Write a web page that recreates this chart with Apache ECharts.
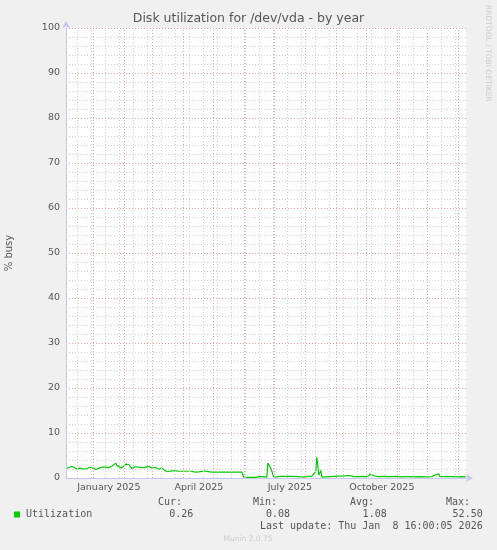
<!DOCTYPE html>
<html>
<head>
<meta charset="utf-8">
<script src="https://cdn.jsdelivr.net/npm/echarts@6/dist/echarts.min.js"></script>
<style>
  html, body { margin: 0; padding: 0; background: #f0f0f0; }
  #chart { width: 497px; height: 550px; }
</style>
</head>
<body>
<div id="chart"></div>
<script>
// daily utilization (% busy)
var days = [
  '2024-12-05','2024-12-07','2024-12-10','2024-12-11','2024-12-12','2024-12-15','2024-12-18','2024-12-21',
  '2024-12-25','2024-12-28','2024-12-31','2025-01-03','2025-01-06','2025-01-09','2025-01-13','2025-01-16',
  '2025-01-19','2025-01-21','2025-01-23','2025-01-24','2025-01-26','2025-01-29','2025-01-31','2025-02-02',
  '2025-02-03','2025-02-05','2025-02-08','2025-02-11','2025-02-15','2025-02-20','2025-02-25','2025-02-28',
  '2025-03-03','2025-03-07','2025-03-10','2025-03-14','2025-03-17','2025-03-20','2025-03-24','2025-03-27',
  '2025-04-02','2025-04-09','2025-04-12','2025-04-16','2025-04-22','2025-04-24','2025-04-29','2025-05-11',
  '2025-05-16','2025-05-23','2025-05-29','2025-05-31','2025-06-06','2025-06-12','2025-06-16','2025-06-18',
  '2025-06-23','2025-06-24','2025-06-26','2025-06-27','2025-06-28','2025-06-29','2025-06-30','2025-07-06',
  '2025-07-08','2025-07-14','2025-07-16','2025-07-20','2025-07-22','2025-07-30','2025-08-03','2025-08-07',
  '2025-08-09','2025-08-11','2025-08-12','2025-08-13','2025-08-14','2025-08-15','2025-08-16','2025-08-17',
  '2025-08-25','2025-09-02','2025-09-06','2025-09-14','2025-09-18','2025-09-22','2025-09-26','2025-09-30',
  '2025-10-03','2025-10-04','2025-10-06','2025-10-09','2025-10-12','2025-10-18','2025-10-24','2025-10-30',
  '2025-11-05','2025-11-09','2025-11-11','2025-11-13','2025-11-15','2025-11-17','2025-11-23','2025-11-29',
  '2025-12-05','2025-12-08','2025-12-09','2025-12-12','2025-12-13','2025-12-15','2025-12-19','2025-12-25',
  '2025-12-31','2026-01-04','2026-01-08'
];
var busy = [
  2.1, 2.3, 2.6, 2.4, 2.7, 2.0, 2.2, 2.0,
  2.1, 2.4, 2.2, 1.9, 2.2, 2.4, 2.4, 2.3,
  2.6, 2.8, 3.3, 2.8, 3.0, 2.2, 2.6, 3.1,
  2.9, 3.0, 2.1, 2.5, 2.4, 2.3, 2.6, 2.2,
  2.4, 2.0, 2.2, 1.5, 1.45, 1.6, 1.6, 1.5,
  1.5, 1.5, 1.3, 1.35, 1.55, 1.35, 1.3, 1.3,
  1.3, 1.3, 1.33, 0.15, 0.15, 0.15, 0.35, 0.15,
  0.2, 3.3, 2.9, 2.2, 1.5, 1.8, 0.15, 0.35,
  0.15, 0.35, 0.15, 0.35, 0.15, 0.2, 0.35, 0.35,
  0.2, 1.5, 4.6, 4.2, 0.6, 0.2, 1.7, 0.2,
  0.3, 0.4, 0.4, 0.55, 0.3, 0.3, 0.35, 0.3,
  0.45, 0.9, 0.5, 0.45, 0.3, 0.35, 0.3, 0.35,
  0.25, 0.3, 0.6, 0.3, 0.45, 0.25, 0.3, 0.25,
  0.3, 0.65, 0.3, 0.9, 0.35, 0.45, 0.3, 0.3,
  0.25, 0.3, 0.26
];
var monthNames = ['January','February','March','April','May','June','July','August','September','October','November','December'];
var statHeads = ['Cur:', 'Min:', 'Avg:', 'Max:'];
var statVals = ['0.26', '0.08', '1.08', '52.50'];

function parseDay(s) {
  var p = s.split('-');
  return +new Date(+p[0], +p[1] - 1, +p[2], 12);
}

var tStart = +new Date(2024, 11, 4, 16, 0, 5);
var tEnd = +new Date(2026, 0, 8, 16, 0, 5);
var DAY = 86400000;

// red lines on the first of every month
var monthStarts = [];
for (var m = 1; m < 14; m++) monthStarts.push(+new Date(2024, 11 + m, 1));
// grey lines every two weeks
var fortnights = [];
for (var t = +new Date(2024, 11, 15, 16); t < tEnd; t += 14 * DAY) fortnights.push(t);
// quarter labels sit half a month after the boundary
var labelDays = [+new Date(2025, 0, 16, 12), +new Date(2025, 3, 16, 12), +new Date(2025, 6, 16, 12), +new Date(2025, 9, 16, 12)];

var txt = '#555555';
var mono = '"DejaVu Sans Mono", monospace';
var sans = '"DejaVu Sans", sans-serif';
var axisCol = '#c6c6f2';
var redGrid = '#f2a0a0';
var greyGrid = '#cfcfcf';

function vLines(vals, color) {
  return {
    type: 'line', data: [], silent: true, z: 1,
    markLine: {
      silent: true, symbol: 'none', animation: false,
      label: { show: false },
      lineStyle: { color: color, type: [1, 2], width: 1 },
      emphasis: { disabled: true },
      data: vals.map(function (v) { return { xAxis: v }; })
    }
  };
}

var chart = echarts.init(document.getElementById('chart'));

var graphics = [
  { type: 'text', left: 'center', top: 12, style: { text: 'Disk utilization for /dev/vda - by year', fill: txt, font: '12.5px ' + sans } },
  { type: 'text', x: 492, y: 5, rotation: -Math.PI / 2, style: { text: 'RRDTOOL / TOBI OETIKER', fill: '#cccccc', font: '7.5px ' + sans } },
  { type: 'rect', shape: { x: 14, y: 511.5, width: 6, height: 6 }, style: { fill: '#00cc00' } },
  { type: 'text', x: 26, y: 514.5, style: { text: 'Utilization', fill: txt, font: '10px ' + mono, textVerticalAlign: 'middle' } },
  { type: 'text', x: 482.7, y: 526.7, style: { text: 'Last update: Thu Jan  8 16:00:05 2026', fill: txt, font: '10px ' + mono, textAlign: 'right', textVerticalAlign: 'middle' } },
  { type: 'text', x: 248, y: 539, style: { text: 'Munin 2.0.75', fill: '#cccccc', font: '7.5px ' + sans, textAlign: 'center', textVerticalAlign: 'middle' } }
];
var headRight = [182, 277, 374, 470];
var valRight = [193.3, 290, 386.7, 482.7];
statHeads.forEach(function (h, i) {
  graphics.push({ type: 'text', x: headRight[i], y: 502.7, style: { text: h, fill: txt, font: '10px ' + mono, textAlign: 'right', textVerticalAlign: 'middle' } });
  graphics.push({ type: 'text', x: valRight[i], y: 514.5, style: { text: statVals[i], fill: txt, font: '10px ' + mono, textAlign: 'right', textVerticalAlign: 'middle' } });
});

chart.setOption({
  backgroundColor: '#f0f0f0',
  animation: false,
  grid: { left: 66, right: 31, top: 28, bottom: 72, show: true, backgroundColor: '#ffffff', borderWidth: 0, outerBoundsMode: 'none', containLabel: false },
  xAxis: {
    type: 'value', min: tStart, max: tEnd,
    axisLine: { show: true, lineStyle: { color: axisCol, width: 1 }, symbol: ['none', 'arrow'], symbolSize: [6, 7], symbolOffset: [0, 7] },
    axisTick: { show: false },
    splitLine: { show: false },
    axisLabel: {
      customValues: labelDays, color: txt, fontSize: 9.5, fontFamily: sans, margin: 5,
      formatter: function (v) { var d = new Date(v); return monthNames[d.getMonth()] + ' ' + d.getFullYear(); }
    }
  },
  yAxis: {
    type: 'value', min: 0, max: 100, interval: 10,
    name: '% busy', nameLocation: 'middle', nameGap: 52, nameRotate: 90,
    nameTextStyle: { color: txt, fontSize: 10, fontFamily: sans },
    axisLine: { show: true, lineStyle: { color: axisCol, width: 1 }, symbol: ['none', 'arrow'], symbolSize: [6, 7], symbolOffset: [0, 7] },
    axisTick: { show: false },
    axisLabel: { color: txt, fontSize: 9.5, fontFamily: sans, margin: 6 },
    splitLine: { show: true, lineStyle: { color: redGrid, type: [1, 2], width: 1 } },
    minorTick: { show: false, splitNumber: 5 },
    minorSplitLine: { show: true, lineStyle: { color: greyGrid, type: [1, 2], width: 1 } }
  },
  series: [
    vLines(fortnights, greyGrid),
    vLines(monthStarts, redGrid),
    {
      type: 'line',
      data: days.map(function (d, i) { return [parseDay(d), busy[i]]; }),
      showSymbol: false, symbol: 'none',
      lineStyle: { color: '#00cc00', width: 1.2 },
      z: 3
    }
  ],
  graphic: graphics
});
</script>
</body>
</html>
